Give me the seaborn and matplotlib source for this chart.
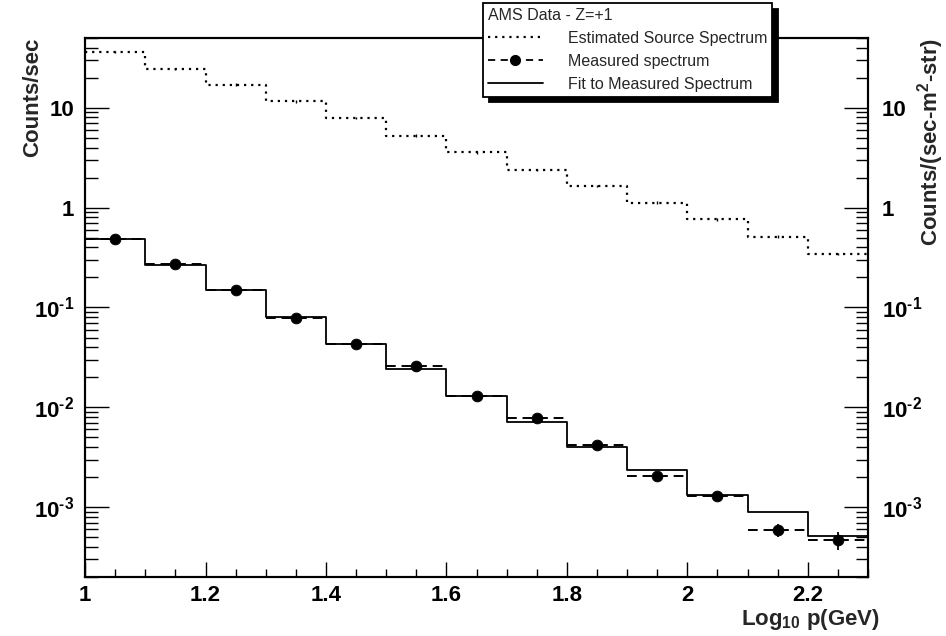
import numpy as np
import matplotlib
matplotlib.use("Agg")
import matplotlib.pyplot as plt
import seaborn as sns
from matplotlib.lines import Line2D
from matplotlib.ticker import FixedLocator, LogLocator, FuncFormatter, MultipleLocator


# DATA
BIN_EDGES = [1.0, 1.1, 1.2, 1.3, 1.4, 1.5, 1.6, 1.7, 1.8, 1.9, 2.0, 2.1, 2.2, 2.3]
BIN_CENTERS = [1.05, 1.15, 1.25, 1.35, 1.45, 1.55, 1.65, 1.75, 1.85, 1.95, 2.05, 2.15, 2.25]

source_spectrum = [36.2, 24.6, 17.0, 11.6, 7.9, 5.27, 3.57, 2.39, 1.65, 1.12, 0.766, 0.513, 0.343]
source_err = [1.0, 0.7, 0.5, 0.35, 0.24, 0.16, 0.11, 0.07, 0.05, 0.035, 0.024, 0.016, 0.011]

measured = [0.48, 0.27, 0.149, 0.078, 0.043, 0.0259, 0.0130, 0.0079, 0.0042, 0.00207, 0.0013, 0.00059, 0.00047]
measured_err = [0.005, 0.003, 0.002, 0.001, 0.0006, 0.0004, 0.0002, 0.00012, 0.00008, 0.00005, 0.00005, 0.00009, 0.0001]

fit_spectrum = [0.49, 0.265, 0.148, 0.0794, 0.0433, 0.0241, 0.01295, 0.00721, 0.00399, 0.00236, 0.00133, 0.00089, 0.00052]

X_TICKS = [1, 1.2, 1.4, 1.6, 1.8, 2, 2.2]
X_LIM = (1.0, 2.3)
Y_LIM = (2e-4, 50)

LEGEND_TITLE = "AMS Data - Z=+1"
LABEL_SOURCE = "Estimated Source Spectrum"
LABEL_MEASURED = "Measured spectrum"
LABEL_FIT = "Fit to Measured Spectrum"


def step_values(values):
    # repeat the last bin so steps-post closes the final bin
    return list(values) + [values[-1]]


def decade_label(v, pos):
    if np.isclose(v, 10):
        return "10"
    if np.isclose(v, 1):
        return "1"
    exp = int(round(np.log10(v)))
    # plain hyphen in the exponent, like the original plot
    return r"$\mathbf{10^{\text{-}%d}}$" % abs(exp)


def style_log_axis(axis):
    axis.set_major_locator(FixedLocator([1e-3, 1e-2, 1e-1, 1, 10]))
    axis.set_minor_locator(LogLocator(base=10, subs=np.arange(2, 10), numticks=20))
    axis.set_major_formatter(FuncFormatter(decade_label))
    axis.set_minor_formatter(FuncFormatter(lambda v, p: ""))


def main():
    sns.set_theme(style="white")
    plt.rcParams["font.family"] = ["Liberation Sans", "DejaVu Sans"]
    plt.rcParams["font.weight"] = "bold"
    plt.rcParams["mathtext.fontset"] = "custom"
    plt.rcParams["mathtext.rm"] = "Liberation Sans:bold"
    plt.rcParams["mathtext.it"] = "Liberation Sans:bold"
    plt.rcParams["mathtext.bf"] = "Liberation Sans:bold"

    fig = plt.figure(figsize=(9.46, 6.36), dpi=100)
    ax = fig.add_axes([0.0899, 0.0928, 0.8277, 0.8475])
    ax.set_yscale("log")

    # estimated source spectrum (dotted histogram)
    sns.lineplot(x=BIN_EDGES, y=step_values(source_spectrum), drawstyle="steps-post",
                 color="black", linestyle=(0, (1, 2.2)), linewidth=1.6, ax=ax)
    ax.errorbar(BIN_CENTERS, source_spectrum, yerr=source_err, fmt="none",
                ecolor="black", elinewidth=1.0)

    # fit (solid histogram)
    sns.lineplot(x=BIN_EDGES, y=step_values(fit_spectrum), drawstyle="steps-post",
                 color="black", linewidth=1.3, ax=ax)

    # measured spectrum: dashed bin widths, points and errors
    ax.hlines(measured, BIN_EDGES[:-1], BIN_EDGES[1:], colors="black",
              linestyles=(0, (5, 3)), linewidth=1.4)
    ax.errorbar(BIN_CENTERS, measured, yerr=measured_err, fmt="none",
                ecolor="black", elinewidth=1.3)
    sns.scatterplot(x=BIN_CENTERS, y=measured, color="black", s=60,
                    edgecolor="black", zorder=5, ax=ax)

    ax.set_xlim(*X_LIM)
    ax.set_ylim(*Y_LIM)

    ax.xaxis.set_major_locator(FixedLocator(X_TICKS))
    ax.xaxis.set_minor_locator(MultipleLocator(0.05))
    ax.xaxis.set_major_formatter(FuncFormatter(lambda v, p: "%g" % v))
    style_log_axis(ax.yaxis)

    ax.tick_params(axis="both", which="both", direction="in", colors="black",
                   labelsize=16, width=1.0)
    ax.tick_params(axis="y", which="major", length=17, pad=8)
    ax.tick_params(axis="y", which="minor", length=9)
    ax.tick_params(axis="x", which="major", length=11, pad=6)
    ax.tick_params(axis="x", which="minor", length=6)
    ax.tick_params(top=False, right=False, bottom=True, left=True, which="both")

    for spine in ax.spines.values():
        spine.set_color("black")
        spine.set_linewidth(1.5)

    ax.set_ylabel("Counts/sec", fontsize=16, fontweight="bold", loc="top")
    ax.yaxis.set_label_coords(-0.054, 1.0)
    ax.set_xlabel(r"Log$_{10}$ p(GeV)", fontsize=16, fontweight="bold", loc="right")
    ax.xaxis.set_label_coords(1.015, -0.056)

    # right hand axis with the same scale
    ax2 = ax.twinx()
    ax2.set_yscale("log")
    ax2.set_ylim(*Y_LIM)
    style_log_axis(ax2.yaxis)
    ax2.tick_params(axis="y", which="both", direction="in", colors="black",
                    labelsize=16, width=1.0, left=False, right=True)
    ax2.tick_params(axis="y", which="major", length=17, pad=10)
    ax2.tick_params(axis="y", which="minor", length=9)
    ax2.set_ylabel(r"Counts/(sec-m$^2$-str)", fontsize=16, fontweight="bold", loc="top")
    ax2.yaxis.set_label_coords(1.06, 1.0)
    for spine in ax2.spines.values():
        spine.set_color("black")
        spine.set_linewidth(1.5)

    handles = [
        Line2D([], [], color="black", linestyle=(0, (1, 2.2)), linewidth=1.6),
        Line2D([], [], color="black", linestyle=(0, (4, 3)), linewidth=1.3,
               marker="o", markersize=7),
        Line2D([], [], color="black", linewidth=1.3),
    ]
    leg = fig.legend(handles, [LABEL_SOURCE, LABEL_MEASURED, LABEL_FIT],
                     title=LEGEND_TITLE, alignment="left",
                     loc="upper left", bbox_to_anchor=(0.511, 0.995),
                     borderaxespad=0,
                     frameon=True, fancybox=False, edgecolor="black",
                     framealpha=1, fontsize=11.5, title_fontsize=11.5,
                     handlelength=3.4, handletextpad=1.6,
                     borderpad=0.3, labelspacing=0.5,
                     shadow={"color": "black", "alpha": 1, "ox": 4, "oy": -4})
    leg.get_frame().set_linewidth(1.3)
    plt.setp(leg.get_texts(), fontweight="normal")
    leg.get_title().set_fontweight("normal")

    fig.savefig("out.png", dpi=100)


if __name__ == "__main__":
    main()
